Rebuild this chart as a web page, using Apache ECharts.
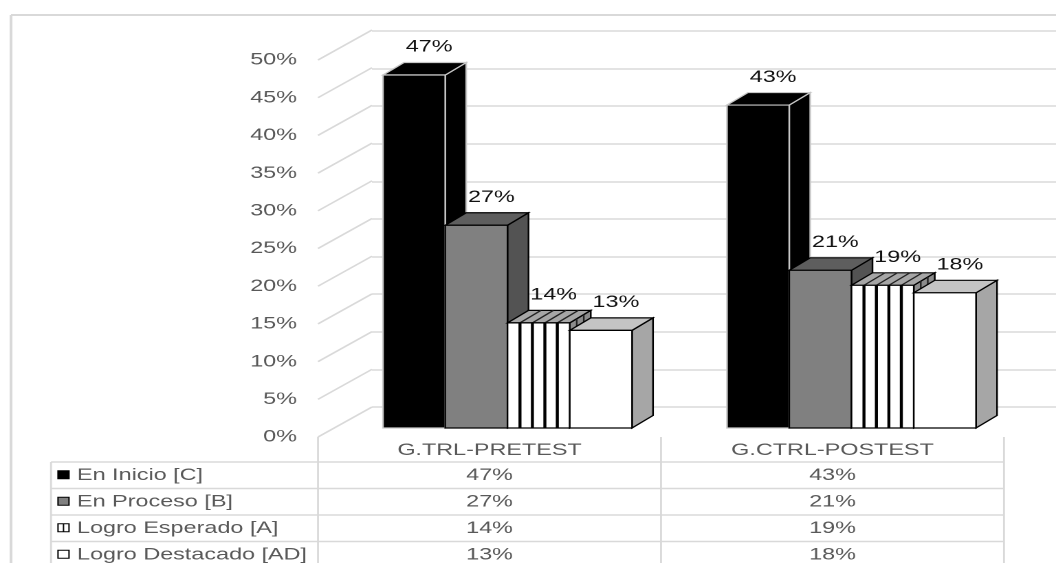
<!DOCTYPE html>
<html style="height: 100%">
<head>
<meta charset="UTF-8">
<title>Niveles de logro</title>
<script src="https://cdn.jsdelivr.net/npm/echarts@6/dist/echarts.min.js"></script>
</head>
<body style="height: 100%; margin: 0; overflow: hidden; background: #fff">
<div id="container" style="width: 768px; height: 563px; transform: scaleX(1.375); transform-origin: 0 0"></div>
<script type="text/javascript">
// data
var categories = ['G.TRL-PRETEST', 'G.CTRL-POSTEST'];
var seriesNames = ['En Inicio [C]', 'En Proceso [B]', 'Logro Esperado [A]', 'Logro Destacado [AD]'];
var enInicio = [47, 43];
var enProceso = [27, 21];
var logroEsperado = [14, 19];
var logroDestacado = [13, 18];
var yTicks = [0, 5, 10, 15, 20, 25, 30, 35, 40, 45, 50];

// the picture is stretched sideways, so the chart is drawn narrow and scaled
var SX = 1.375;
function sx(x) { return x / SX; }

var FONT = "'Liberation Sans', Arial, sans-serif";
var GRID_COLOR = '#d9d9d9';
var TEXT_COLOR = '#595959';
var BAR_FRAC = 0.181;
var DX = sx(21), DY = -12.5;

var looks = [
	{ front: '#000000', top: '#000000', side: '#000000', stroke: '#c8c8c8' },
	{ front: '#808080', top: '#5e5e5e', side: '#535353', stroke: '#000000' },
	{ front: '#ffffff', top: '#a6a6a6', side: '#8c8c8c', stroke: '#000000', stripes: true },
	{ front: '#ffffff', top: '#c4c4c4', side: '#a6a6a6', stroke: '#000000' }
];

function barRender(si) {
	var lk = looks[si];
	return function (params, api) {
		var cat = api.value(0), val = api.value(1);
		var top = api.coord([cat, val]);
		var bot = api.coord([cat, 0]);
		var bw = api.size([1, 0])[0] * BAR_FRAC;
		var x0 = top[0] + (si - 2) * bw, x1 = x0 + bw;
		var y0 = top[1], y1 = bot[1];
		var lw = 1.2;
		var kids = [];
		kids.push({ type: 'polygon', shape: { points: [[x1, y0], [x1 + DX, y0 + DY], [x1 + DX, y1 + DY], [x1, y1]] },
			style: { fill: lk.side, stroke: lk.stroke, lineWidth: lw } });
		kids.push({ type: 'polygon', shape: { points: [[x0, y0], [x1, y0], [x1 + DX, y0 + DY], [x0 + DX, y0 + DY]] },
			style: { fill: lk.top, stroke: lk.stroke, lineWidth: lw } });
		if (lk.stripes) {
			for (var k = 1; k < 5; k++) {
				var xs = x0 + bw * k / 5;
				kids.push({ type: 'line', shape: { x1: xs, y1: y0, x2: xs + DX, y2: y0 + DY },
					style: { stroke: '#222', lineWidth: lw } });
			}
			for (var j = 1; j < 3; j++) {
				var xj = x1 + DX * j / 3;
				kids.push({ type: 'line', shape: { x1: xj, y1: y0 + DY * j / 3, x2: xj, y2: y1 + DY * j / 3 },
					style: { stroke: '#222', lineWidth: lw } });
			}
		}
		kids.push({ type: 'rect', shape: { x: x0, y: y0, width: bw, height: y1 - y0 },
			style: { fill: lk.front, stroke: lk.stroke, lineWidth: lw } });
		if (lk.stripes) {
			for (var m = 1; m < 5; m++) {
				var xm = x0 + bw * m / 5;
				kids.push({ type: 'line', shape: { x1: xm, y1: y0, x2: xm, y2: y1 },
					style: { stroke: '#000', lineWidth: 2.2 } });
			}
		}
		kids.push({ type: 'text', z2: 50, style: { text: val + '%', x: x0 + bw / 2 + sx(15), y: y0 - 28,
			align: 'center', verticalAlign: 'middle', textAlign: 'center', textVerticalAlign: 'middle',
			fill: '#111', fontSize: 17, fontFamily: FONT } });
		return { type: 'group', children: kids };
	};
}

// table
var rows = [enInicio, enProceso, logroEsperado, logroDestacado];
var tLeft = sx(51), tMid1 = sx(318), tMid2 = sx(661), tRight = sx(1004);
var rowY = [462, 488.5, 515, 541.5, 568];
var graphic = [];
function gline(x1, y1, x2, y2, w) {
	graphic.push({ type: 'line', shape: { x1: x1, y1: y1, x2: x2, y2: y2 }, style: { stroke: GRID_COLOR, lineWidth: w || 1.4 }, silent: true });
}
// chart area border
gline(sx(11), 15, sx(1060), 15, 2);
gline(sx(11), 15, sx(11), 575, 2);
for (var r = 0; r < rowY.length; r++) gline(tLeft, rowY[r], tRight, rowY[r]);
gline(tLeft, 462, tLeft, 575);
gline(tMid1, 437, tMid1, 575);
gline(tMid2, 437, tMid2, 575);
gline(tRight, 437, tRight, 575);
for (var i = 0; i < seriesNames.length; i++) {
	var cy = (rowY[i] + rowY[i + 1]) / 2;
	var kx = sx(58), kw = 8, kh = 8;
	var lk = looks[i];
	graphic.push({ type: 'rect', shape: { x: kx, y: cy - kh / 2 - 0.5, width: kw, height: kh },
		style: { fill: lk.front, stroke: '#000', lineWidth: 1 } });
	if (lk.stripes) {
		graphic.push({ type: 'line', shape: { x1: kx + kw / 2, y1: cy - kh / 2 - 0.5, x2: kx + kw / 2, y2: cy + kh / 2 - 0.5 },
			style: { stroke: '#000', lineWidth: 1 } });
	}
	graphic.push({ type: 'text', style: { text: seriesNames[i], x: sx(77), y: cy,
		align: 'left', verticalAlign: 'middle', textAlign: 'left', textVerticalAlign: 'middle',
		fill: TEXT_COLOR, fontSize: 17, fontFamily: FONT } });
	var cols = [(tMid1 + tMid2) / 2, (tMid2 + tRight) / 2];
	for (var c = 0; c < categories.length; c++) {
		graphic.push({ type: 'text', style: { text: rows[i][c] + '%', x: cols[c], y: cy,
			align: 'center', verticalAlign: 'middle', textAlign: 'center', textVerticalAlign: 'middle',
			fill: TEXT_COLOR, fontSize: 17, fontFamily: FONT } });
	}
}

var myChart = echarts.init(document.getElementById('container'), null, { devicePixelRatio: 2 });
var option = {
	animation: false,
	textStyle: { fontFamily: FONT },
	grid: [
		{ left: sx(335.5), width: sx(688), top: 52.5, height: 375.5, outerBoundsMode: 'none' },
		{ left: sx(318), width: sx(686), top: 60, height: 377, outerBoundsMode: 'none' },
		{ left: sx(372), width: sx(1056 - 372), top: 31, height: 376, outerBoundsMode: 'none' }
	],
	xAxis: [
		{ gridIndex: 0, type: 'category', data: categories, show: false },
		{ gridIndex: 1, type: 'category', data: categories,
			axisLine: { show: false }, axisTick: { show: false },
			axisLabel: { color: TEXT_COLOR, fontSize: 17, margin: 5 } },
		{ gridIndex: 2, type: 'value', show: false }
	],
	yAxis: [
		{ gridIndex: 0, type: 'value', min: 0, max: 50, interval: 5, show: false },
		{ gridIndex: 1, type: 'value', min: 0, max: 50, interval: 5,
			axisLine: { show: false }, axisTick: { show: false }, splitLine: { show: false },
			axisLabel: { color: TEXT_COLOR, fontSize: 17, margin: sx(21), formatter: '{value}%' } },
		{ gridIndex: 2, type: 'value', min: 0, max: 50, interval: 5,
			axisLine: { show: false }, axisTick: { show: false }, axisLabel: { show: false },
			splitLine: { show: true, lineStyle: { color: GRID_COLOR, width: 1.5 } } }
	],
	series: [
		{
			name: 'wall', type: 'custom', xAxisIndex: 1, yAxisIndex: 1, z: 1, silent: true,
			data: yTicks.map(function (v) { return [0, v]; }),
			renderItem: function (params, api) {
				var p = api.coord([0, api.value(1)]);
				var x = params.coordSys.x;
				return { type: 'line', shape: { x1: x, y1: p[1], x2: x + sx(54), y2: p[1] - 30 },
					style: { stroke: GRID_COLOR, lineWidth: 1.5 } };
			}
		}
	].concat(rows.map(function (vals, si) {
		return {
			name: seriesNames[si], type: 'custom', xAxisIndex: 0, yAxisIndex: 0, z: 3,
			data: vals.map(function (v, ci) { return [ci, v]; }),
			renderItem: barRender(si)
		};
	})),
	graphic: graphic
};
myChart.setOption(option, true);
</script>
</body>
</html>
